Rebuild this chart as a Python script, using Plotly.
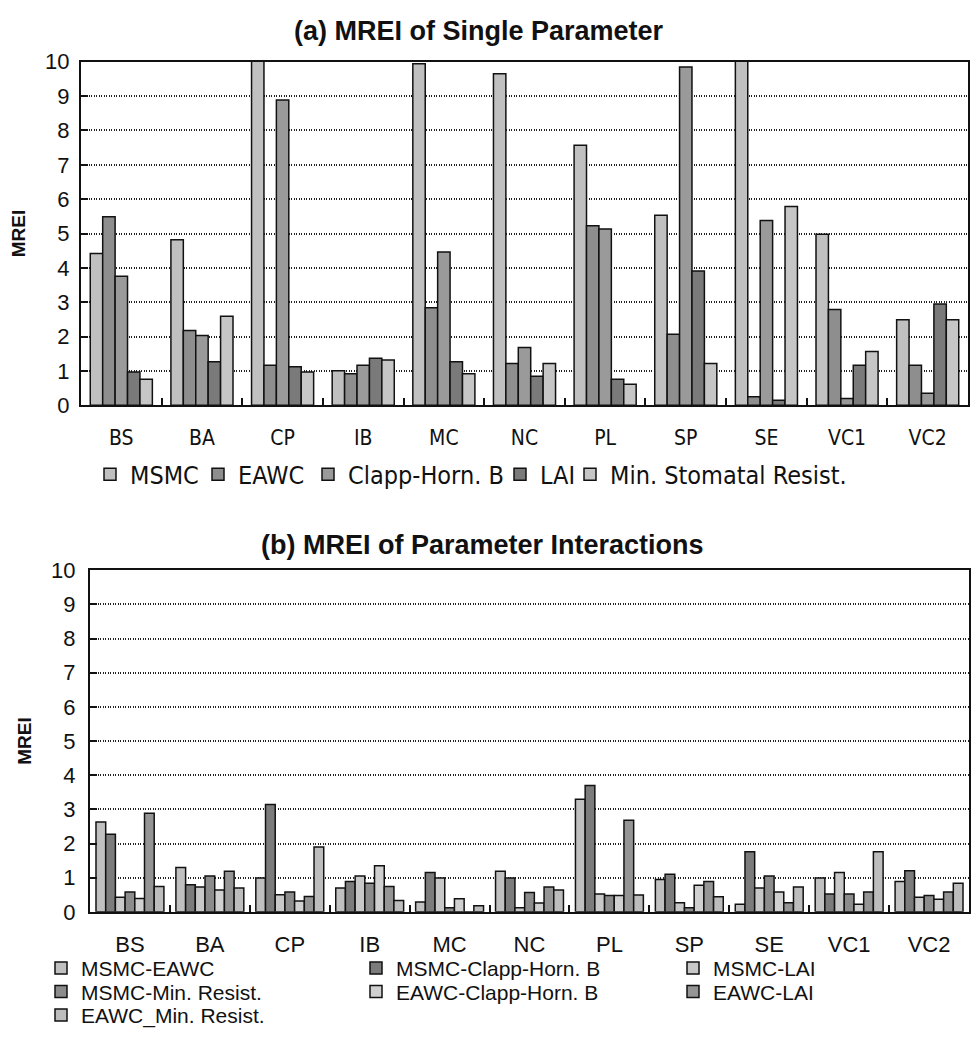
import plotly.graph_objects as go

W, H = 974, 1041

categories = ["BS", "BA", "CP", "IB", "MC", "NC", "PL", "SP", "SE", "VC1", "VC2"]

# (a) single parameter
single_names = ["MSMC", "EAWC", "Clapp-Horn. B", "LAI", "Min. Stomatal Resist."]
msmc = [4.42, 4.82, 10.6, 1.01, 9.94, 9.65, 7.57, 5.53, 10.6, 4.98, 2.49]
eawc = [5.49, 2.18, 1.17, 0.92, 2.84, 1.22, 5.23, 2.07, 0.25, 2.79, 1.17]
clapp = [3.76, 2.03, 8.89, 1.17, 4.46, 1.68, 5.13, 9.85, 5.38, 0.20, 0.35]
lai = [0.97, 1.27, 1.12, 1.37, 1.27, 0.85, 0.76, 3.91, 0.15, 1.17, 2.95]
min_sr = [0.76, 2.59, 0.97, 1.32, 0.92, 1.22, 0.61, 1.22, 5.79, 1.57, 2.49]
single_values = [msmc, eawc, clapp, lai, min_sr]
single_colors = ["#c0c0c0", "#8e8e8e", "#9a9a9a", "#7a7a7a", "#c6c6c6"]

# (b) interactions
inter_names = ["MSMC-EAWC", "MSMC-Clapp-Horn. B", "MSMC-LAI", "MSMC-Min. Resist.",
               "EAWC-Clapp-Horn. B", "EAWC-LAI", "EAWC_Min. Resist."]
msmc_eawc = [2.63, 1.30, 0.99, 0.70, 0.29, 1.19, 3.30, 0.95, 0.22, 0.99, 0.89]
msmc_clapp = [2.27, 0.79, 3.14, 0.89, 1.15, 0.99, 3.70, 1.10, 1.76, 0.52, 1.20]
msmc_lai = [0.43, 0.73, 0.50, 1.05, 0.99, 0.12, 0.52, 0.27, 0.70, 1.15, 0.43]
msmc_minr = [0.58, 1.05, 0.58, 0.84, 0.12, 0.57, 0.48, 0.12, 1.05, 0.52, 0.48]
eawc_clapp = [0.39, 0.64, 0.32, 1.35, 0.38, 0.26, 0.48, 0.78, 0.58, 0.22, 0.37]
eawc_lai = [2.89, 1.19, 0.45, 0.74, 0.0, 0.73, 2.68, 0.89, 0.27, 0.58, 0.58]
eawc_minr = [0.74, 0.70, 1.90, 0.33, 0.18, 0.64, 0.49, 0.44, 0.73, 1.76, 0.84]
inter_values = [msmc_eawc, msmc_clapp, msmc_lai, msmc_minr, eawc_clapp, eawc_lai, eawc_minr]
inter_colors = ["#c0c0c0", "#7c7c7c", "#c8c8c8", "#8c8c8c", "#d0d0d0", "#959595", "#bdbdbd"]

y_ticks = list(range(0, 11))

NARROW = "Liberation Sans Narrow, Arial Narrow, DejaVu Sans Condensed, Liberation Sans, Arial"
ARIAL = "Liberation Sans, Arial, Helvetica, sans-serif"
INK = "#111111"

def px_x(p):
    return p / W

def px_y(p):
    return 1 - p / H

fig = go.Figure()

# legend anchor points (px) for each key
top_legend_pos = [(90, 474), (198, 474), (308, 474), (500, 474), (570, 474)]
bot_legend_pos = [(41, 980), (356, 980), (673, 980),
                  (41, 1004), (356, 1004), (673, 1004),
                  (41, 1028)]

top_group = 0.77
top_w = top_group / len(single_names)
for i, (name, vals, col) in enumerate(zip(single_names, single_values, single_colors)):
    lg = "legend" if i == 0 else f"legend{i + 1}"
    fig.add_trace(go.Bar(
        x=categories, y=vals, name=name, xaxis="x", yaxis="y", legend=lg,
        width=top_w, offset=-top_group / 2 + i * top_w,
        marker=dict(color=col, line=dict(color=INK, width=1.5)),
    ))

bot_group = 0.85
bot_w = bot_group / len(inter_names)
for i, (name, vals, col) in enumerate(zip(inter_names, inter_values, inter_colors)):
    lg = f"legend{6 + i}"
    fig.add_trace(go.Bar(
        x=categories, y=vals, name=name, xaxis="x2", yaxis="y2", legend=lg,
        width=bot_w, offset=-bot_group / 2 + i * bot_w,
        marker=dict(color=col, line=dict(color=INK, width=1.5)),
    ))

axis_common = dict(showline=True, linecolor=INK, linewidth=2, mirror=True, zeroline=False)

layout = dict(
    width=W, height=H, autosize=False,
    margin=dict(l=0, r=0, t=0, b=0),
    paper_bgcolor="white", plot_bgcolor="white",
    barmode="group",
    showlegend=True,
    xaxis=dict(domain=[px_x(81), px_x(968)], anchor="y", type="category",
               tickson="boundaries", ticks="inside", ticklen=7, tickwidth=1.5,
               tickcolor=INK, showgrid=False,
               tickfont=dict(family=NARROW, size=21, color=INK),
               ticklabelstandoff=12, **axis_common),
    yaxis=dict(domain=[px_y(403), px_y(51)], anchor="x", range=[0, 10],
               tickvals=y_ticks, ticks="inside", ticklen=7, tickwidth=1.5,
               tickcolor=INK, ticklabelstandoff=5,
               showgrid=True, gridcolor="#222222", gridwidth=1.5, griddash="1px,1.5px",
               tickfont=dict(family=ARIAL, size=22, color=INK),
               title=dict(text="<b>MREI</b>", font=dict(family=ARIAL, size=19, color=INK),
                          standoff=14),
               **axis_common),
    xaxis2=dict(domain=[px_x(90), px_x(969)], anchor="y2", type="category",
                tickson="boundaries", ticks="inside", ticklen=7, tickwidth=1.5,
                tickcolor=INK, showgrid=False,
                tickfont=dict(family=ARIAL, size=22, color=INK),
                ticklabelstandoff=12, **axis_common),
    yaxis2=dict(domain=[px_y(922), px_y(572)], anchor="x2", range=[0, 10],
                tickvals=y_ticks, ticks="inside", ticklen=7, tickwidth=1.5,
                tickcolor=INK, ticklabelstandoff=8,
                showgrid=True, gridcolor="#222222", gridwidth=1.5, griddash="1px,1.5px",
                tickfont=dict(family=ARIAL, size=22, color=INK),
                title=dict(text="<b>MREI</b>", font=dict(family=ARIAL, size=19, color=INK),
                           standoff=14),
                **axis_common),
    annotations=[
        dict(text="<b>(a) MREI of Single Parameter</b>", xref="paper", yref="paper",
             x=px_x(479), y=px_y(19), xanchor="center", yanchor="middle", showarrow=False,
             font=dict(family=ARIAL, size=27, color=INK)),
        dict(text="<b>(b) MREI of Parameter Interactions</b>", xref="paper", yref="paper",
             x=px_x(482), y=px_y(546), xanchor="center", yanchor="middle", showarrow=False,
             font=dict(family=ARIAL, size=27, color=INK)),
    ],
)

legend_common = dict(orientation="h", xanchor="left", yanchor="middle",
                     bgcolor="rgba(0,0,0,0)", itemwidth=30,
                     itemclick=False, itemdoubleclick=False)

for i, (lx, ly) in enumerate(top_legend_pos):
    key = "legend" if i == 0 else f"legend{i + 1}"
    layout[key] = dict(x=px_x(lx), y=px_y(ly),
                       font=dict(family=NARROW, size=25, color=INK), **legend_common)

for i, (lx, ly) in enumerate(bot_legend_pos):
    layout[f"legend{6 + i}"] = dict(x=px_x(lx), y=px_y(ly),
                                    font=dict(family=ARIAL, size=21, color=INK),
                                    **legend_common)

fig.update_layout(**layout)

fig.write_html("out.html")
